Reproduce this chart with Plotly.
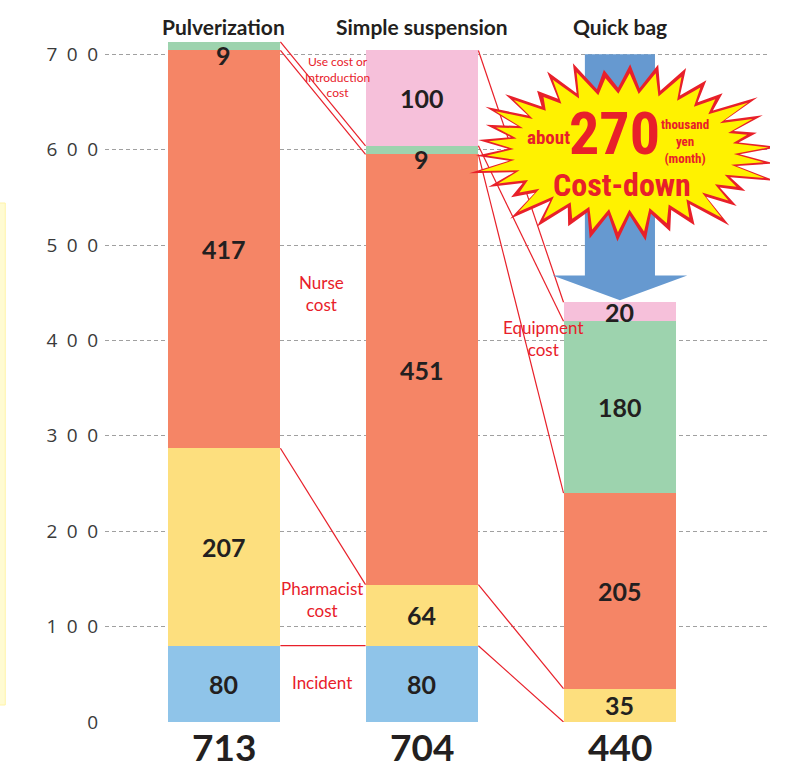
import numpy as np
import plotly.graph_objects as go

# Monthly cost per preparation method (thousand yen)
methods = ["Pulverization", "Simple suspension", "Quick bag"]
totals = [713, 704, 440]
incident = [80, 80, 0]
pharmacist = [207, 64, 35]
nurse = [417, 451, 205]
equipment = [9, 9, 180]
use_cost = [0, 100, 20]

y_ticks = [0, 100, 200, 300, 400, 500, 600, 700]
y_tick_text = ["0"] + ["\u2002".join(str(v)) for v in y_ticks[1:]]

saving = 270

series = [
    ("Incident", incident, "#8fc4e9"),
    ("Pharmacist cost", pharmacist, "#fddf7e"),
    ("Nurse cost", nurse, "#f58566"),
    ("Equipment cost", equipment, "#9dd3ae"),
    ("Use cost or Introduction cost", use_cost, "#f6c0da"),
]

RED = "#e8202a"
INK = "#231f20"
BODY = "Lato, 'Open Sans', sans-serif"
NARROW = "'Liberation Sans Narrow', 'Roboto Condensed', Roboto, sans-serif"
BAR_W = 0.57
x = np.arange(len(methods))

fig = go.Figure()

for name, vals, col in series:
    fig.add_trace(go.Bar(
        x=x, y=vals, width=BAR_W, name=name,
        marker=dict(color=col, line=dict(width=0)),
        hoverinfo="name+y", showlegend=False,
    ))

# cumulative tops of every segment
stack = np.array([s[1] for s in series], dtype=float)
tops = np.cumsum(stack, axis=0)
bottoms = tops - stack

# value labels in the middle of each segment
for si in range(stack.shape[0]):
    for bi in range(stack.shape[1]):
        v = stack[si, bi]
        if v <= 0:
            continue
        yshift = -9 if v < 15 else 0
        fig.add_annotation(
            x=x[bi], y=(tops[si, bi] + bottoms[si, bi]) / 2, text=f"{int(v)}",
            showarrow=False, yshift=yshift, yanchor="middle",
            font=dict(family=BODY, size=25, color=INK, weight="bold"),
        )

# red connector lines between matching segment boundaries of adjacent bars
def connect(b0, b1, layers):
    for si in layers:
        fig.add_trace(go.Scatter(
            x=[x[b0] + BAR_W / 2, x[b1] - BAR_W / 2],
            y=[tops[si, b0], tops[si, b1]],
            mode="lines", line=dict(color=RED, width=1.2),
            hoverinfo="skip", showlegend=False,
        ))

connect(0, 1, [0, 1, 2, 3])
connect(1, 2, [0, 1, 2, 3, 4])

# category titles and totals
for i, m in enumerate(methods):
    fig.add_annotation(x=x[i], y=1, yref="paper", yanchor="middle", yshift=13, text=m,
                       showarrow=False,
                       font=dict(family=BODY, size=21, color=INK, weight="bold"))
    fig.add_annotation(x=x[i], y=0, yref="paper", yanchor="middle", yshift=-24,
                       text=str(totals[i]), showarrow=False,
                       font=dict(family=BODY, size=37, color=INK, weight="bold"))

fig.add_annotation(x=-0.672, y=0, yref="paper", yanchor="middle", yshift=-33,
                   text="[ Unit: thousand yen]", showarrow=False,
                   font=dict(family=BODY, size=15, color="#333333"))

# red cost-category labels between the bars
def red_label(xv, yv, text, size=17):
    fig.add_annotation(x=xv, y=yv, text=text, showarrow=False, align="center",
                       font=dict(family=BODY, size=size, color=RED))

red_label(0.495, 449, "Nurse<br>cost")
red_label(0.495, 128, "Pharmacist<br>cost")
red_label(0.495, 41, "Incident")
red_label(1.616, 402, "Equipment<br>cost")
red_label(0.571, 676, "Use cost or<br>Introduction<br>cost", size=12)

# blue down arrow from the 700 line to the Quick bag total
shaft = 0.177
head = 0.34
arrow = (f"M {2 - shaft},700 L {2 + shaft},700 L {2 + shaft},468 L {2 + head},468 "
         f"L 2,442 L {2 - head},468 L {2 - shaft},468 Z")
fig.add_shape(type="path", path=arrow, fillcolor="#6699d0", line=dict(width=0), layer="above")

# starburst badge
def star(rx_o, ry_o, rx_i, ry_i, n=34):
    pts = []
    for k in range(2 * n):
        a = np.pi * k / n + 0.05
        if k % 2 == 0:
            f = 1 + 0.06 * np.sin(2.3 * k) + 0.04 * np.cos(5.1 * k)
            px, py = rx_o * f * np.cos(a), ry_o * f * np.sin(a)
        else:
            px, py = rx_i * np.cos(a), ry_i * np.sin(a)
        pts.append(f"{px:.1f},{py:.1f}")
    return "M " + " L ".join(pts) + " Z"

CX, CY = 2.02, 598
for rxo, ryo, rxi, ryi, col in [(150, 88, 116, 64, RED), (139, 79, 110, 58, "#fff200")]:
    fig.add_shape(type="path", path=star(rxo, ryo, rxi, ryi),
                  xsizemode="pixel", ysizemode="pixel", xanchor=CX, yanchor=CY,
                  fillcolor=col, line=dict(width=0), layer="above")

fig.add_annotation(x=CX, y=CY, xshift=-75, yshift=14, text="about", showarrow=False,
                   font=dict(family=NARROW, size=19, color=RED, weight="bold"))
fig.add_annotation(x=CX, y=CY, xshift=-9, yshift=18, text=str(saving), showarrow=False,
                   font=dict(family=NARROW, size=60, color=RED, weight="bold"))
fig.add_annotation(x=CX, y=CY, xshift=61, yshift=10, text="thousand<br>yen<br>(month)",
                   showarrow=False,
                   font=dict(family=NARROW, size=13, color=RED, weight="bold"))
fig.add_annotation(x=CX, y=CY, xshift=-2, yshift=-33, text="Cost-down", showarrow=False,
                   font=dict(family=NARROW, size=32, color=RED, weight="bold"))

# pale panel peeking in at the left edge
fig.add_shape(type="rect", xref="paper", yref="paper",
              x0=-0.165, x1=-0.15, y0=(722 - 705) / 683, y1=(722 - 203) / 683,
              fillcolor="#fffbd2", line=dict(color="#fff3a8", width=1), layer="below")

fig.update_layout(
    width=785, height=766,
    margin=dict(l=105, r=15, t=39, b=44),
    barmode="stack", bargap=0,
    plot_bgcolor="white", paper_bgcolor="white",
    xaxis=dict(range=[-0.601, 2.758], showticklabels=False, showgrid=False,
               zeroline=False, showline=False, fixedrange=True),
    yaxis=dict(range=[0, 716], tickvals=y_ticks, ticktext=y_tick_text,
               showgrid=True, gridcolor="#a0a0a0", griddash="4px,3px", gridwidth=1,
               zeroline=False, showline=False, ticks="",
               tickfont=dict(family="'Open Sans', sans-serif", size=19, color="#3a3a3a"),
               ticklabelstandoff=6),
)

fig.write_html("out.html")
